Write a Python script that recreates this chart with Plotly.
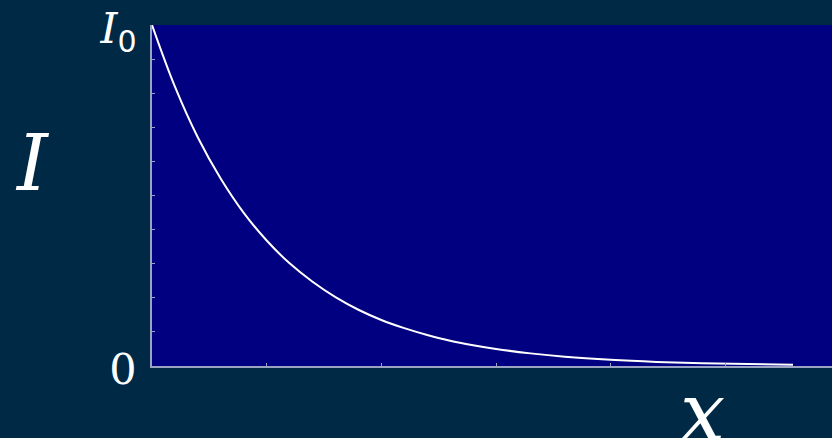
import plotly.graph_objects as go

# Intensity decay along x (units of the tick spacing), I in units of I0
x_vals = [0, 0.2, 0.4, 0.6, 0.8, 1.0, 1.2, 1.4, 1.6, 1.8, 2.0, 2.2, 2.4,
          2.6, 2.8, 3.0, 3.3, 3.6, 4.0, 4.4, 4.8, 5.2, 5.59]
i_vals = [1.000, 0.819, 0.670, 0.549, 0.449, 0.368, 0.301, 0.247, 0.202,
          0.165, 0.135, 0.111, 0.091, 0.074, 0.061, 0.050, 0.037, 0.027,
          0.018, 0.012, 0.008, 0.0055, 0.004]

y_tick_vals = [0, 0.1, 0.2, 0.3, 0.4, 0.5, 0.6, 0.7, 0.8, 0.9, 1.0]
y_tick_text = ["0", "", "", "", "", "", "", "", "", "",
               "<i>I</i><sub><span style=\"font-family:'DejaVu Sans'\">0</span></sub>"]
x_tick_vals = [1, 2, 3, 4, 5]

SERIF = "DejaVu Serif"
BG = "#002946"
PLOT_BG = "#000080"
AXIS = "#9aa4c2"

fig = go.Figure()
fig.add_trace(go.Scatter(
    x=x_vals, y=i_vals, mode="lines",
    line=dict(color="white", width=2, shape="spline", smoothing=1.0),
    hoverinfo="skip", showlegend=False,
))

fig.update_layout(
    width=832, height=438,
    margin=dict(l=152, r=0, t=25, b=72),
    paper_bgcolor=BG, plot_bgcolor=PLOT_BG,
    font=dict(family=SERIF, color="white"),
    xaxis=dict(
        range=[0, 5.93], showgrid=False, zeroline=False,
        showline=True, linecolor=AXIS, linewidth=1.5,
        tickmode="array", tickvals=x_tick_vals, ticktext=[""] * len(x_tick_vals),
        ticks="inside", ticklen=3, tickwidth=1, tickcolor=AXIS,
    ),
    yaxis=dict(
        range=[0, 1], showgrid=False, zeroline=False,
        showline=True, linecolor=AXIS, linewidth=1.5,
        tickmode="array", tickvals=y_tick_vals, ticktext=y_tick_text,
        ticks="inside", ticklen=3, tickwidth=1, tickcolor=AXIS,
        tickfont=dict(family=SERIF, size=43, color="white"),
        ticklabelstandoff=5, ticklabelshift=3,
    ),
    annotations=[
        dict(text="<i>I</i>", xref="paper", yref="paper", x=-0.176, y=0.594,
             xanchor="center", yanchor="middle", showarrow=False,
             font=dict(family=SERIF, size=78, color="white")),
        dict(text="<i>x</i>", xref="paper", yref="paper", x=0.81, y=-0.135,
             xanchor="center", yanchor="middle", showarrow=False,
             font=dict(family=SERIF, size=80, color="white")),
    ],
)

fig.write_html("out.html")
